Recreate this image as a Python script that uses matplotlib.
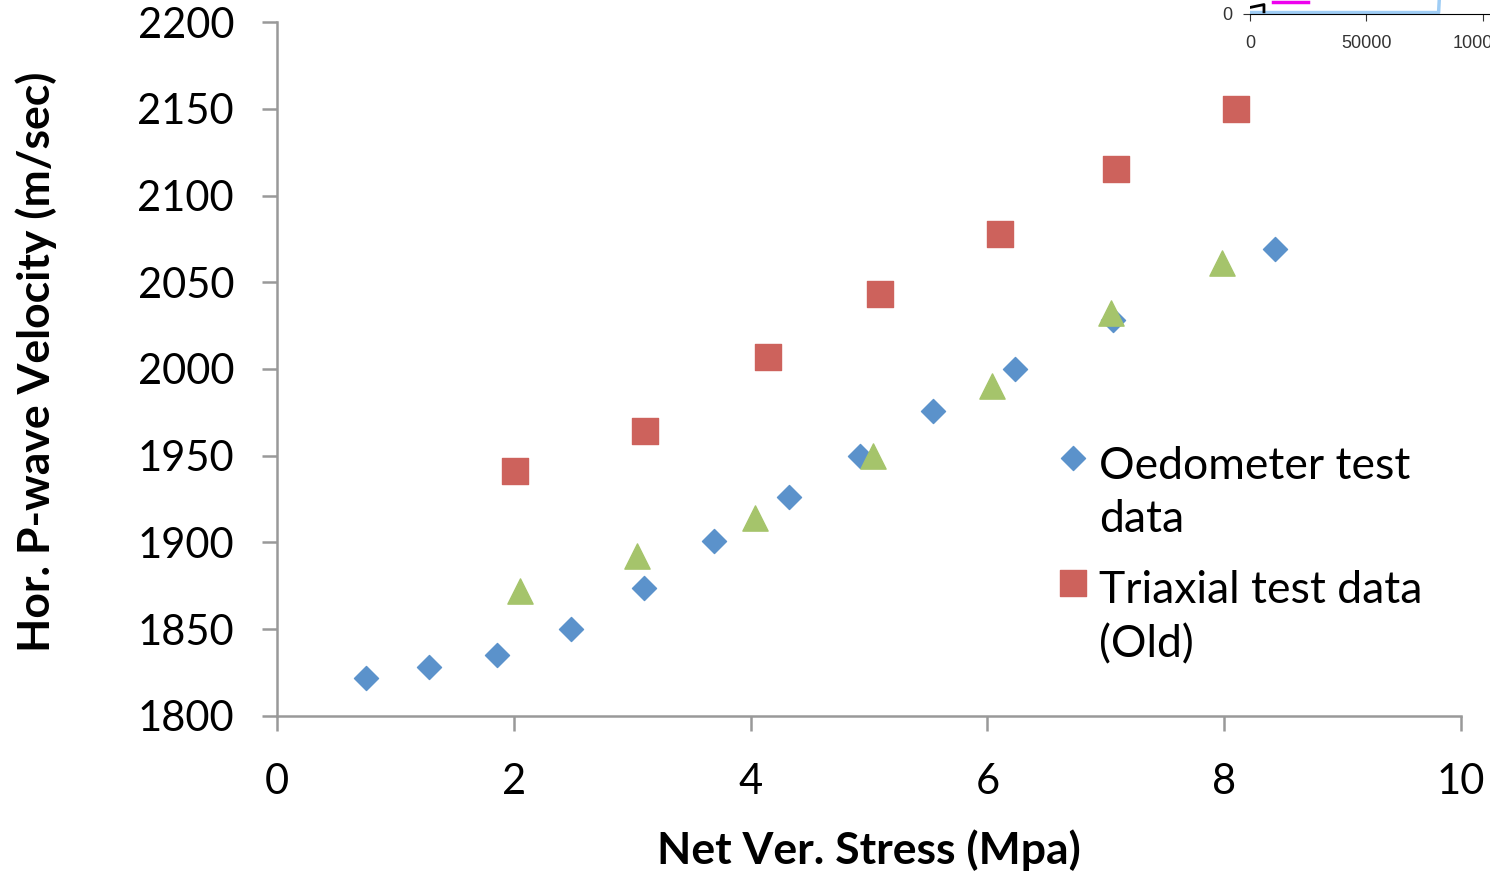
import matplotlib.pyplot as plt

# main chart data
oedo_x = [0.75, 1.28, 1.86, 2.48, 3.10, 3.69, 4.32, 4.92, 5.54, 6.23, 7.06, 8.43]
oedo_y = [1822, 1828, 1835, 1850, 1874, 1901, 1926, 1950, 1976, 2000, 2028, 2069]

triax_x = [2.01, 3.11, 4.15, 5.09, 6.11, 7.09, 8.10]
triax_y = [1941, 1964, 2007, 2043, 2078, 2115, 2150]

new_x = [2.05, 3.04, 4.04, 5.03, 6.04, 7.04, 7.98]
new_y = [1872, 1892, 1914, 1950, 1990, 2032, 2061]

legend_labels = ['Oedometer test\ndata', 'Triaxial test data\n(Old)']

# fragment of a neighbouring chart, cut by the top right corner
inset_blue_x = [0, 81000, 83000]
inset_blue_y = [1, 1, 60]
inset_pink_x = [10000, 25000]
inset_pink_y = [8.5, 8.5]
inset_black_x = [0, 6000, 6000]
inset_black_y = [4.5, 6.5, 1.5]

plt.rcParams['font.family'] = ['Lato', 'DejaVu Sans']

fig = plt.figure(figsize=(14.9, 8.71), dpi=100)
ax = fig.add_axes([0.186, 0.178, 0.7945, 0.7967])

blue, red, green = '#5b92cb', '#cd625c', '#a5c46b'
ax.scatter(oedo_x, oedo_y, marker='D', s=150, color=blue, zorder=3)
ax.scatter(triax_x, triax_y, marker='s', s=330, color=red, zorder=3)
ax.scatter(new_x, new_y, marker='^', s=330, color=green, zorder=3)

ax.set_xlim(0, 10)
ax.set_ylim(1800, 2200)
ax.set_xticks(range(0, 11, 2))
ax.set_yticks(range(1800, 2201, 50))
for s in ['top', 'right']:
    ax.spines[s].set_visible(False)
for s in ['left', 'bottom']:
    ax.spines[s].set_color('#999999')
    ax.spines[s].set_linewidth(1.8)
ax.tick_params(direction='out', length=11, width=1.8, color='#999999', labelsize=30)
ax.tick_params(axis='x', pad=23)
ax.tick_params(axis='y', pad=20)
ax.set_xlabel('Net Ver. Stress (Mpa)', fontsize=32, fontweight='bold')
ax.set_ylabel('Hor. P-wave Velocity (m/sec)', fontsize=32, fontweight='bold')
ax.xaxis.set_label_coords(0.5, -0.163)
ax.yaxis.set_label_coords(-0.186, 0.51)

# legend: marker next to the first line of each wrapped label
ax.scatter([0.672], [0.372], marker='D', s=150, color=blue, transform=ax.transAxes, clip_on=False)
ax.scatter([0.672], [0.192], marker='s', s=330, color=red, transform=ax.transAxes, clip_on=False)
ax.text(0.694, 0.265, legend_labels[0], transform=ax.transAxes, fontsize=32, va='baseline', linespacing=1.37)
ax.text(0.694, 0.085, legend_labels[1], transform=ax.transAxes, fontsize=32, va='baseline', linespacing=1.37)

ins = fig.add_axes([1250 / 1490, 1 - 14 / 871, 0.2, 0.1])
ins.plot(inset_blue_x, inset_blue_y, color='#9fcdf5', lw=2.5)
ins.plot(inset_pink_x, inset_pink_y, color='#ee00ee', lw=2.5)
ins.plot(inset_black_x, inset_black_y, color='black', lw=2)
ins.set_xlim(0, 128000)
ins.set_ylim(0, 60)
ins.set_xticks([0, 50000, 100000])
ins.set_yticks([0])
ins.tick_params(direction='out', length=5, labelsize=13, colors='#333333', pad=10)
ins.tick_params(axis='y', pad=8)
for lbl in ins.get_xticklabels() + ins.get_yticklabels():
    lbl.set_family(['Liberation Sans', 'DejaVu Sans'])
for s in ['top', 'right']:
    ins.spines[s].set_visible(False)
ins.spines['left'].set_visible(False)
ins.set_facecolor('none')

fig.savefig('out.png', dpi=100)
